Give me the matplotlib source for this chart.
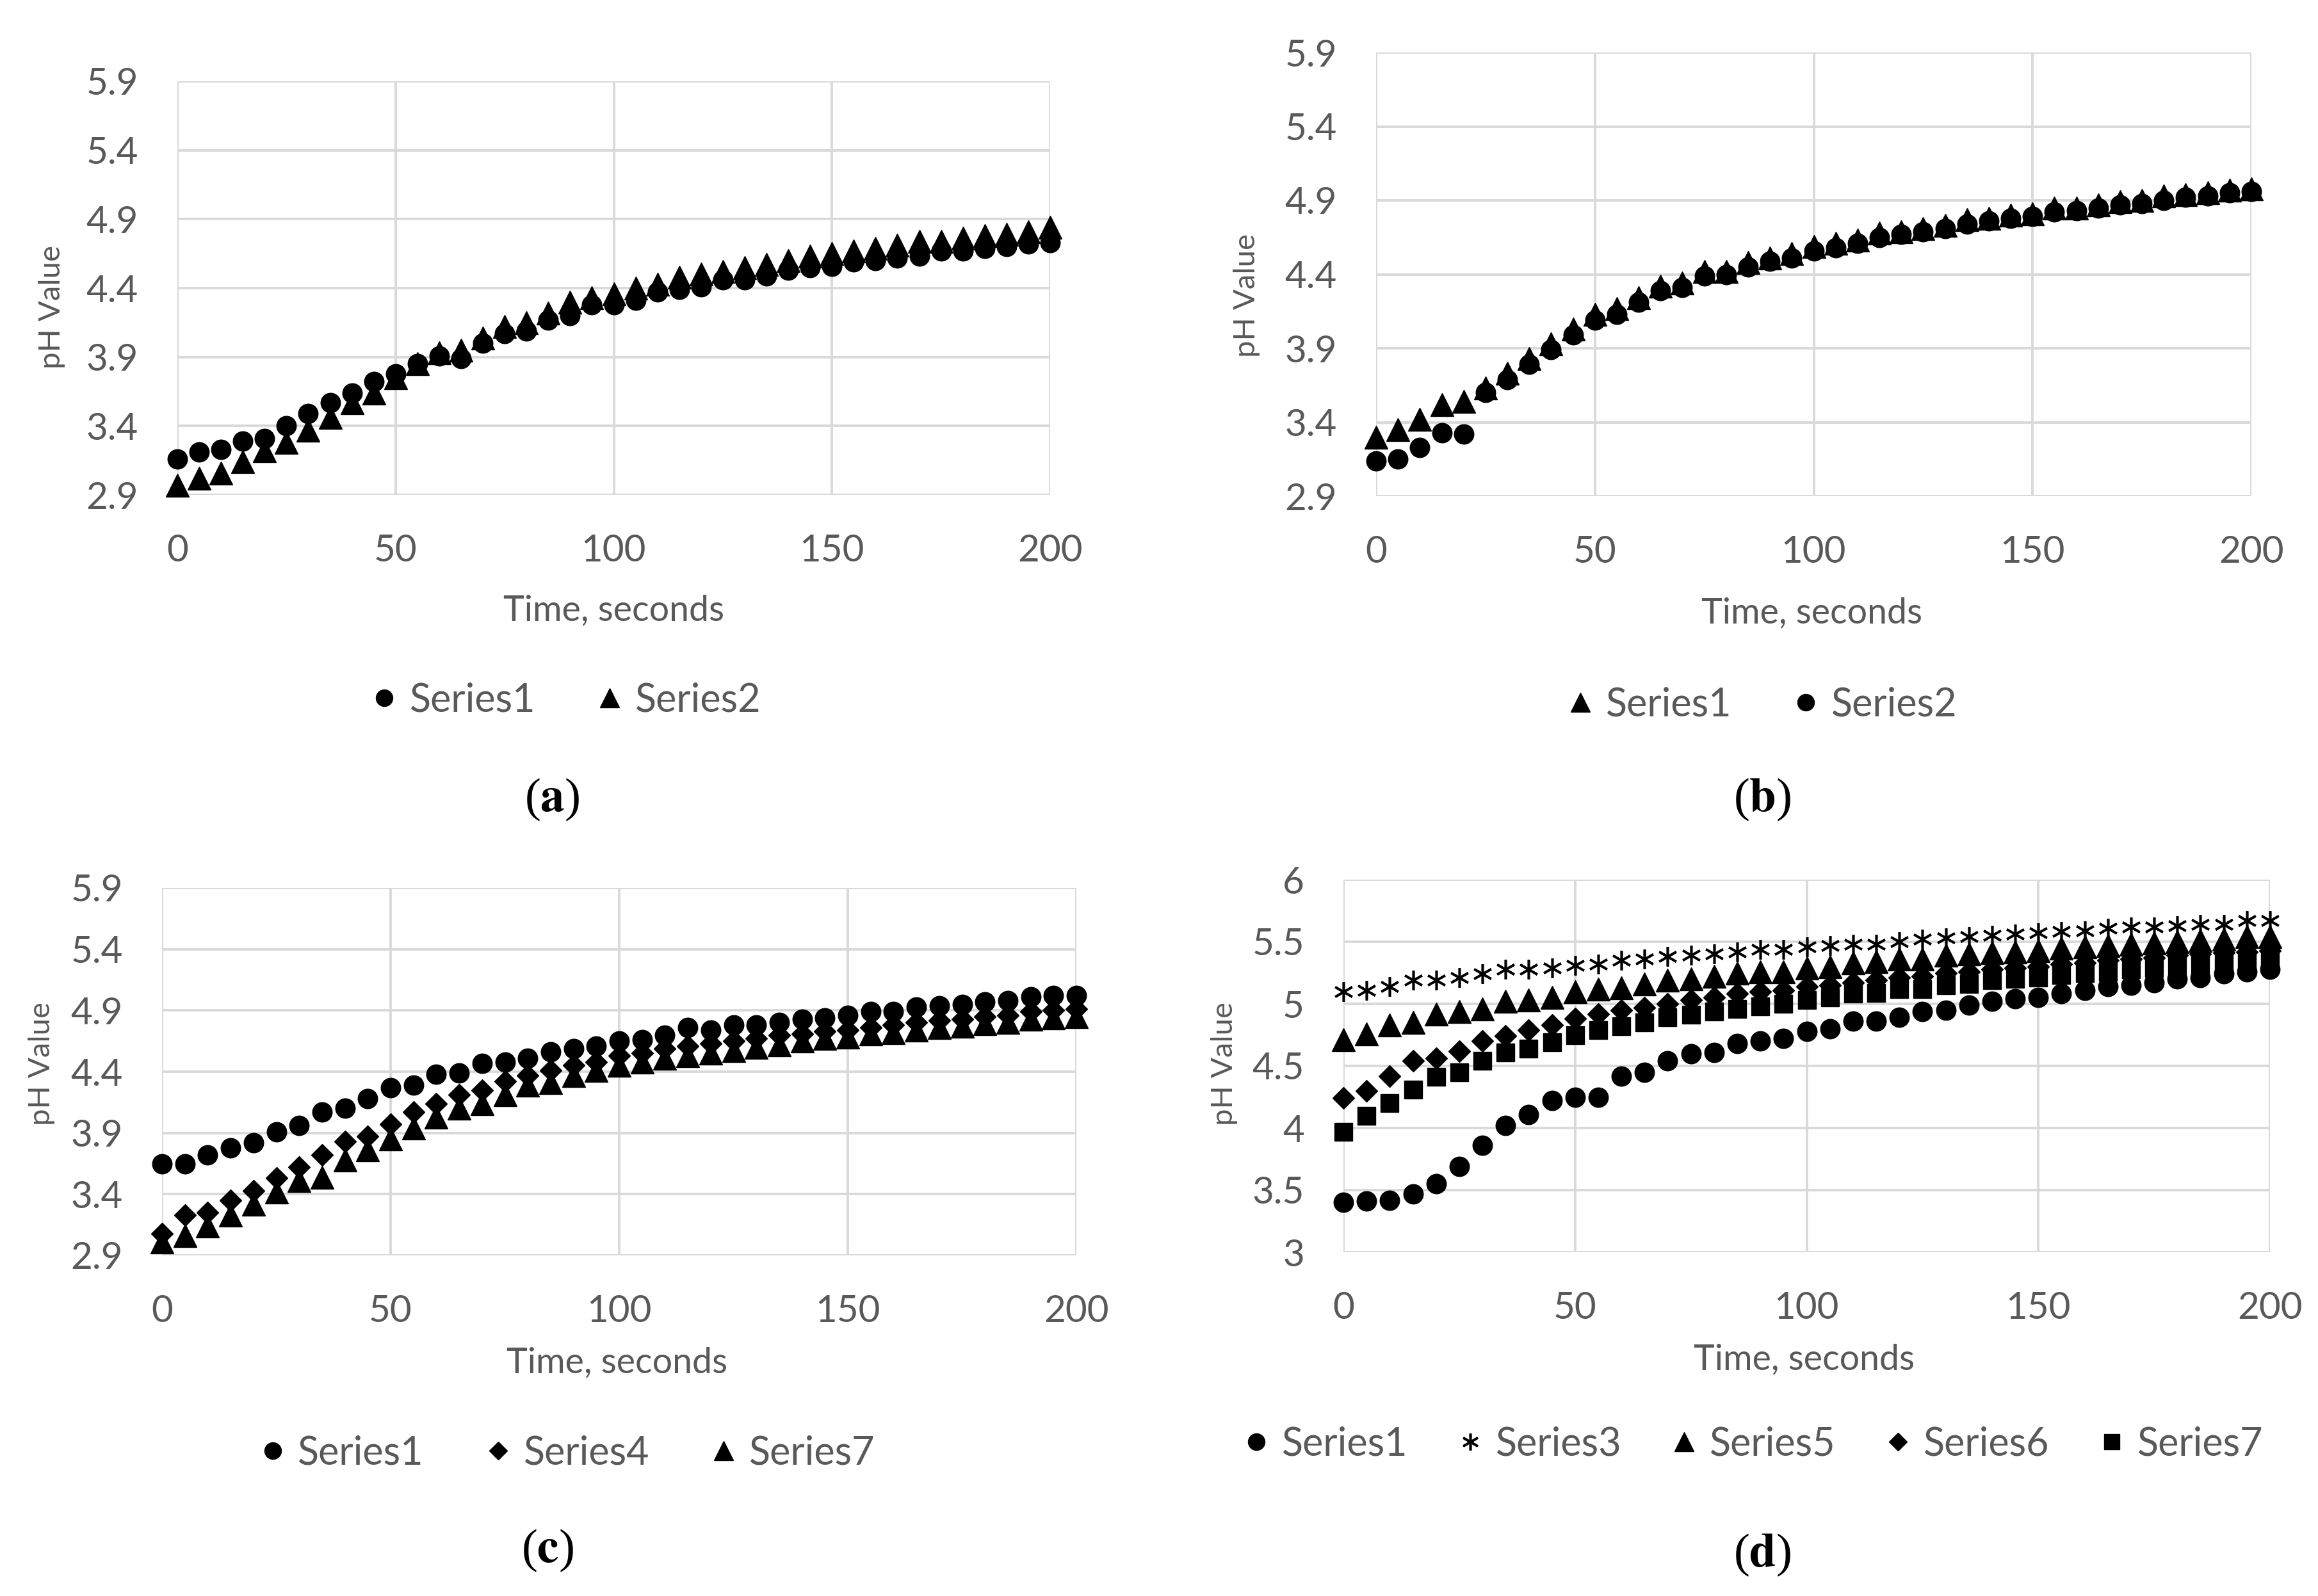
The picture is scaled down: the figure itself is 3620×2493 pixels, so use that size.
import numpy as np
import matplotlib.pyplot as plt

plt.rcParams.update({
    "font.family": ["Lato", "DejaVu Sans"],
    "mathtext.fontset": "stix",
})

GRAY = "#595959"
GRID = "#D9D9D9"

# ----------------------------
# Data (time in seconds, pH values)
# ----------------------------
time_s = list(range(0, 201, 5))

a_series1 = [3.16, 3.21, 3.23, 3.29, 3.31, 3.40, 3.49, 3.57, 3.64, 3.72,
             3.78, 3.85, 3.91, 3.89, 4.00, 4.07, 4.09, 4.17, 4.20, 4.28,
             4.28, 4.31, 4.37, 4.39, 4.41, 4.46, 4.46, 4.49, 4.53, 4.55,
             4.56, 4.59, 4.60, 4.62, 4.63, 4.67, 4.67, 4.69, 4.70, 4.72, 4.73]
a_series2 = [2.97, 3.02, 3.06, 3.14, 3.22, 3.28, 3.37, 3.46, 3.57, 3.64,
             3.75, 3.85, 3.93, 3.95, 4.04, 4.12, 4.15, 4.22, 4.30, 4.33,
             4.36, 4.40, 4.43, 4.48, 4.50, 4.52, 4.55, 4.57, 4.60, 4.63,
             4.65, 4.67, 4.69, 4.71, 4.74, 4.74, 4.76, 4.78, 4.79, 4.81, 4.84]

b_series1 = [3.30, 3.35, 3.42, 3.52, 3.54, 3.63, 3.73, 3.83, 3.93, 4.03,
             4.13, 4.17, 4.24, 4.32, 4.34, 4.42, 4.42, 4.48, 4.51, 4.54,
             4.59, 4.61, 4.63, 4.68, 4.69, 4.71, 4.73, 4.77, 4.78, 4.80,
             4.81, 4.85, 4.85, 4.87, 4.89, 4.90, 4.93, 4.94, 4.95, 4.97, 4.98]
b_series2 = [3.14, 3.15, 3.23, 3.33, 3.32, 3.60, 3.69, 3.79, 3.89, 3.99,
             4.09, 4.13, 4.21, 4.29, 4.31, 4.39, 4.40, 4.45, 4.49, 4.51,
             4.56, 4.58, 4.61, 4.65, 4.67, 4.69, 4.71, 4.74, 4.76, 4.78,
             4.79, 4.82, 4.83, 4.85, 4.87, 4.88, 4.90, 4.92, 4.93, 4.95, 4.96]

c_series1 = [3.65, 3.65, 3.72, 3.78, 3.82, 3.91, 3.96, 4.07, 4.10, 4.18,
             4.27, 4.29, 4.38, 4.39, 4.47, 4.48, 4.51, 4.56, 4.59, 4.61,
             4.65, 4.66, 4.70, 4.76, 4.74, 4.78, 4.78, 4.80, 4.83, 4.84,
             4.86, 4.89, 4.89, 4.93, 4.94, 4.95, 4.97, 4.98, 5.01, 5.02, 5.02]
c_series4 = [3.08, 3.23, 3.25, 3.35, 3.43, 3.53, 3.62, 3.72, 3.83, 3.87,
             3.97, 4.07, 4.14, 4.21, 4.25, 4.32, 4.37, 4.41, 4.45, 4.48,
             4.53, 4.55, 4.59, 4.61, 4.63, 4.65, 4.67, 4.70, 4.71, 4.73,
             4.74, 4.76, 4.78, 4.80, 4.82, 4.83, 4.85, 4.86, 4.89, 4.90, 4.91]
c_series7 = [3.01, 3.06, 3.14, 3.23, 3.32, 3.42, 3.51, 3.54, 3.68, 3.76,
             3.85, 3.94, 4.03, 4.10, 4.14, 4.21, 4.29, 4.31, 4.37, 4.41,
             4.45, 4.48, 4.51, 4.53, 4.55, 4.57, 4.60, 4.62, 4.65, 4.67,
             4.68, 4.71, 4.72, 4.74, 4.76, 4.77, 4.79, 4.80, 4.83, 4.84, 4.85]

d_series1 = [3.40, 3.41, 3.42, 3.47, 3.55, 3.69, 3.86, 4.02, 4.11, 4.22,
             4.25, 4.25, 4.42, 4.45, 4.54, 4.60, 4.61, 4.68, 4.70, 4.72,
             4.78, 4.80, 4.86, 4.86, 4.89, 4.94, 4.95, 4.99, 5.02, 5.04,
             5.05, 5.08, 5.11, 5.14, 5.15, 5.17, 5.20, 5.21, 5.24, 5.26, 5.28]
d_series3 = [5.10, 5.11, 5.14, 5.19, 5.19, 5.21, 5.24, 5.28, 5.28, 5.29,
             5.31, 5.32, 5.35, 5.36, 5.38, 5.39, 5.40, 5.42, 5.44, 5.44,
             5.46, 5.47, 5.48, 5.48, 5.50, 5.52, 5.53, 5.54, 5.55, 5.56,
             5.57, 5.58, 5.59, 5.61, 5.62, 5.62, 5.63, 5.64, 5.64, 5.67, 5.67]
d_series5 = [4.71, 4.76, 4.83, 4.85, 4.92, 4.94, 4.96, 5.02, 5.03, 5.05,
             5.10, 5.12, 5.13, 5.16, 5.19, 5.20, 5.22, 5.25, 5.26, 5.26,
             5.29, 5.30, 5.33, 5.34, 5.36, 5.36, 5.39, 5.40, 5.41, 5.42,
             5.43, 5.45, 5.46, 5.47, 5.48, 5.49, 5.50, 5.51, 5.52, 5.54, 5.54]
d_series6 = [4.24, 4.30, 4.42, 4.54, 4.56, 4.62, 4.70, 4.74, 4.79, 4.83,
             4.88, 4.92, 4.95, 4.97, 5.00, 5.03, 5.05, 5.08, 5.10, 5.11,
             5.14, 5.15, 5.17, 5.19, 5.21, 5.22, 5.25, 5.26, 5.28, 5.29,
             5.30, 5.32, 5.33, 5.35, 5.36, 5.37, 5.39, 5.40, 5.41, 5.42, 5.43]
d_series7 = [3.97, 4.10, 4.20, 4.31, 4.41, 4.45, 4.54, 4.61, 4.64, 4.69,
             4.75, 4.79, 4.82, 4.85, 4.89, 4.91, 4.94, 4.96, 4.98, 5.00,
             5.03, 5.05, 5.08, 5.09, 5.12, 5.12, 5.15, 5.16, 5.19, 5.20,
             5.21, 5.23, 5.25, 5.26, 5.28, 5.29, 5.31, 5.32, 5.33, 5.35, 5.36]

x_ticks = [0, 50, 100, 150, 200]
y_ticks_abc = [2.9, 3.4, 3.9, 4.4, 4.9, 5.4, 5.9]
y_ticks_d = [3, 3.5, 4, 4.5, 5, 5.5, 6]

# marker styles (Excel-like solid black markers)
MK = {
    "circle": dict(marker="o", ms=11),
    "triangle": dict(marker="^", ms=13),
    "diamond": dict(marker="D", ms=8.5),
    "square": dict(marker="s", ms=10),
    "star": dict(marker=(6, 2, 0), ms=11, mew=1.3),
}

W, H = 3620, 2493
fig = plt.figure(figsize=(W / 200, H / 200), dpi=200)


def px_rect(l, r, t, b):
    return [l / W, 1 - b / H, (r - l) / W, (b - t) / H]


def style_axes(ax, yticks, ylabels):
    ax.set_xlim(0, 200)
    ax.set_ylim(yticks[0], yticks[-1])
    ax.set_xticks(x_ticks)
    ax.set_yticks(yticks)
    ax.set_yticklabels(ylabels)
    for s in ax.spines.values():
        s.set_visible(False)
    ax.grid(True, color=GRID, linewidth=1.4)
    ax.set_axisbelow(True)
    ax.tick_params(length=0, labelsize=21, labelcolor=GRAY, pad=22)


def scatter(ax, y, kind, label, z):
    st = dict(MK[kind])
    ms = st.pop("ms")
    mew = st.pop("mew", 0.5)
    return ax.plot(time_s, y, linestyle="none", color="black", ms=ms, mew=mew,
                   clip_on=False, zorder=z, label=label, **st)[0]


def legend(handles, x, y, spacing):
    fig.legend(handles, [h.get_label() for h in handles], loc="center",
               bbox_to_anchor=(x / W, 1 - y / H), ncol=len(handles),
               frameon=False, fontsize=22, labelcolor=GRAY, markerscale=0.85,
               handlelength=0.6, handletextpad=0.35, columnspacing=spacing)


def texts(xl, yl, tag):
    fig.text(xl[0] / W, 1 - xl[1] / H, "Time, seconds", ha="center", va="center",
             fontsize=20, color=GRAY)
    fig.text(yl[0] / W, 1 - yl[1] / H, "pH Value", ha="center", va="center",
             fontsize=17, color=GRAY, rotation=90)
    fig.text(tag[0] / W, 1 - tag[1] / H, r"($\mathbf{%s}$)" % tag[2], ha="center",
             va="center", fontsize=27, family=["Liberation Serif", "DejaVu Serif"])


abc_labels = [f"{v:.1f}" for v in y_ticks_abc]

# ----------------------------
# (a)
# ----------------------------
ax_a = fig.add_axes(px_rect(277, 1640, 127, 773))
style_axes(ax_a, y_ticks_abc, abc_labels)
h1 = scatter(ax_a, a_series1, "circle", "Series1", 3)
h2 = scatter(ax_a, a_series2, "triangle", "Series2", 4)
legend([h1, h2], 885, 1094, 1.6)
texts((958, 954), (81, 480), (862, 1249, "a"))

# ----------------------------
# (b)
# ----------------------------
ax_b = fig.add_axes(px_rect(2149, 3516, 82, 775))
style_axes(ax_b, y_ticks_abc, abc_labels)
h2 = scatter(ax_b, b_series2, "circle", "Series2", 3)
h1 = scatter(ax_b, b_series1, "triangle", "Series1", 4)
legend([h1, h2], 2753, 1101, 1.6)
texts((2829, 958), (1947, 462), (2752, 1249, "b"))

# ----------------------------
# (c)
# ----------------------------
ax_c = fig.add_axes(px_rect(253, 1681, 1387, 1961))
style_axes(ax_c, y_ticks_abc, abc_labels)
h1 = scatter(ax_c, c_series1, "circle", "Series1", 3)
h4 = scatter(ax_c, c_series4, "diamond", "Series4", 4)
h7 = scatter(ax_c, c_series7, "triangle", "Series7", 5)
legend([h1, h4, h7], 887, 2270, 1.6)
texts((963, 2129), (65, 1662), (855, 2422, "c"))

# ----------------------------
# (d)
# ----------------------------
ax_d = fig.add_axes(px_rect(2098, 3545, 1374, 1956))
style_axes(ax_d, y_ticks_d, [f"{v:g}" for v in y_ticks_d])
h1 = scatter(ax_d, d_series1, "circle", "Series1", 3)
h3 = scatter(ax_d, d_series3, "star", "Series3", 4)
h5 = scatter(ax_d, d_series5, "triangle", "Series5", 5)
h6 = scatter(ax_d, d_series6, "diamond", "Series6", 6)
h7 = scatter(ax_d, d_series7, "square", "Series7", 7)
legend([h1, h3, h5, h6, h7], 2739, 2256, 1.3)
texts((2817, 2124), (1912, 1662), (2752, 2429, "d"))

fig.savefig("out.png", dpi=200, facecolor="white")
